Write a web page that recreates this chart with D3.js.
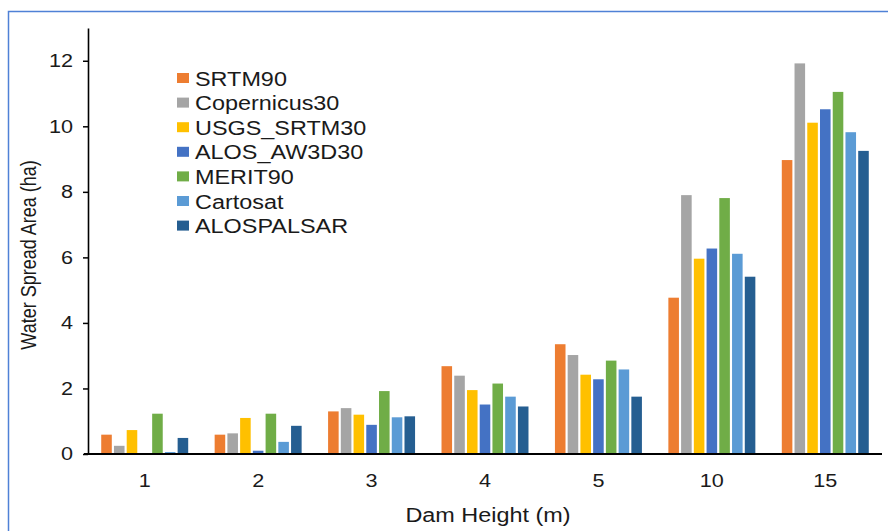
<!DOCTYPE html>
<html>
<head>
<meta charset="utf-8">
<script src="https://cdn.jsdelivr.net/npm/d3@7/dist/d3.min.js"></script>
<style>
  html, body { margin: 0; padding: 0; background: #fff; }
  svg { display: block; font-family: "Liberation Sans", Arial, sans-serif; }
</style>
</head>
<body>
<svg id="chart" width="888" height="531"></svg>
<script>
// Dam heights (m) on the category axis
const categories = ["1", "2", "3", "4", "5", "10", "15"];

// DEM sources shown as series
const seriesNames = ["SRTM90", "Copernicus30", "USGS_SRTM30", "ALOS_AW3D30", "MERIT90", "Cartosat", "ALOSPALSAR"];
const seriesColors = ["#ED7D31", "#A5A5A5", "#FFC000", "#4472C4", "#70AD47", "#5B9BD5", "#255E91"];

// Water spread area (ha) per series, one value per dam height
const srtm90       = [0.59, 0.59, 1.30, 2.68, 3.35, 4.77, 8.97];
const copernicus30 = [0.25, 0.63, 1.40, 2.39, 3.02, 7.90, 11.92];
const usgsSrtm30   = [0.73, 1.10, 1.20, 1.95, 2.42, 5.96, 10.11];
const alosAw3d30   = [0.00, 0.10, 0.89, 1.51, 2.28, 6.27, 10.52];
const merit90      = [1.23, 1.23, 1.92, 2.15, 2.85, 7.81, 11.05];
const cartosat     = [0.06, 0.37, 1.12, 1.75, 2.58, 6.11, 9.82];
const alosPalsar   = [0.49, 0.86, 1.15, 1.45, 1.75, 5.41, 9.25];

const yTicks = [0, 2, 4, 6, 8, 10, 12];

const seriesValues = [srtm90, copernicus30, usgsSrtm30, alosAw3d30, merit90, cartosat, alosPalsar];

// the chart's lettering is set a little wide
const WIDE = 1.2;
function widen(sel, k) {
  sel.each(function () {
    const len = this.getComputedTextLength();
    d3.select(this)
      .attr("textLength", len * k)
      .attr("lengthAdjust", "spacingAndGlyphs");
  });
}

const svg = d3.select("#chart");

// outer chart frame
svg.append("rect")
  .attr("x", 8.5).attr("y", 11.5)
  .attr("width", 890).attr("height", 530)
  .attr("fill", "none")
  .attr("stroke", "#4F81D6")
  .attr("stroke-width", 1.5);

const plot = { left: 88, right: 882, top: 28, bottom: 454 };

const x0 = d3.scaleBand()
  .domain(categories)
  .range([plot.left, plot.right])
  .paddingInner(0.195)
  .paddingOuter(0.0975);

const x1 = d3.scaleBand()
  .domain(d3.range(seriesNames.length))
  .range([0, x0.bandwidth()])
  .padding(0.17);

const y = d3.scaleLinear()
  .domain([0, 13])
  .range([plot.bottom, plot.top]);

// bars
const groups = svg.append("g").selectAll("g")
  .data(categories)
  .join("g")
  .attr("transform", d => `translate(${x0(d)},0)`);

groups.selectAll("rect")
  .data((d, ci) => seriesValues.map((vals, si) => ({ si, v: vals[ci] })))
  .join("rect")
  .attr("x", d => x1(d.si))
  .attr("width", x1.bandwidth())
  .attr("y", d => y(d.v))
  .attr("height", d => y(0) - y(d.v))
  .attr("fill", d => seriesColors[d.si]);

// y axis
const yAxis = svg.append("g")
  .attr("transform", `translate(${plot.left},0)`)
  .call(d3.axisLeft(y).tickValues(yTicks).tickSize(5).tickPadding(10).tickSizeOuter(0));
yAxis.select(".domain").attr("stroke", "#000").attr("stroke-width", 1.6);
yAxis.selectAll(".tick line").attr("stroke", "#000").attr("stroke-width", 1.5);
yAxis.selectAll(".tick text")
  .attr("font-size", 18).attr("fill", "#1a1a1a")
  .attr("font-family", "Liberation Sans, Arial, sans-serif")
  .call(widen, WIDE);

// x axis
const xAxis = svg.append("g")
  .attr("transform", `translate(0,${plot.bottom})`)
  .call(d3.axisBottom(x0).tickSize(0).tickPadding(20).tickSizeOuter(0));
xAxis.select(".domain")
  .attr("d", `M${plot.left - 4},0H${plot.right}`)
  .attr("stroke", "#000").attr("stroke-width", 2.2);
xAxis.selectAll(".tick text")
  .attr("font-size", 18).attr("fill", "#1a1a1a")
  .attr("font-family", "Liberation Sans, Arial, sans-serif")
  .call(widen, WIDE);

// axis titles
svg.append("text")
  .attr("x", (plot.left + plot.right) / 2 + 3)
  .attr("y", 522)
  .attr("text-anchor", "middle")
  .attr("font-size", 19.5).attr("fill", "#1a1a1a")
  .text("Dam Height (m)")
  .call(widen, WIDE);

svg.append("text")
  .attr("transform", `translate(36,${(plot.top + plot.bottom) / 2 + 14}) scale(${WIDE},1) rotate(-90)`)
  .attr("text-anchor", "middle")
  .attr("font-size", 18).attr("fill", "#1a1a1a")
  .text("Water Spread Area (ha)");

// legend
const legend = svg.append("g").attr("transform", "translate(177,73)");
const items = legend.selectAll("g")
  .data(seriesNames)
  .join("g")
  .attr("transform", (d, i) => `translate(0,${i * 24.6})`);
items.append("rect")
  .attr("width", 12).attr("height", 10)
  .attr("fill", (d, i) => seriesColors[i]);
items.append("text")
  .attr("x", 18).attr("y", 12.5)
  .attr("font-size", 19.5).attr("fill", "#1a1a1a")
  .text(d => d)
  .call(widen, WIDE);
</script>
</body>
</html>
